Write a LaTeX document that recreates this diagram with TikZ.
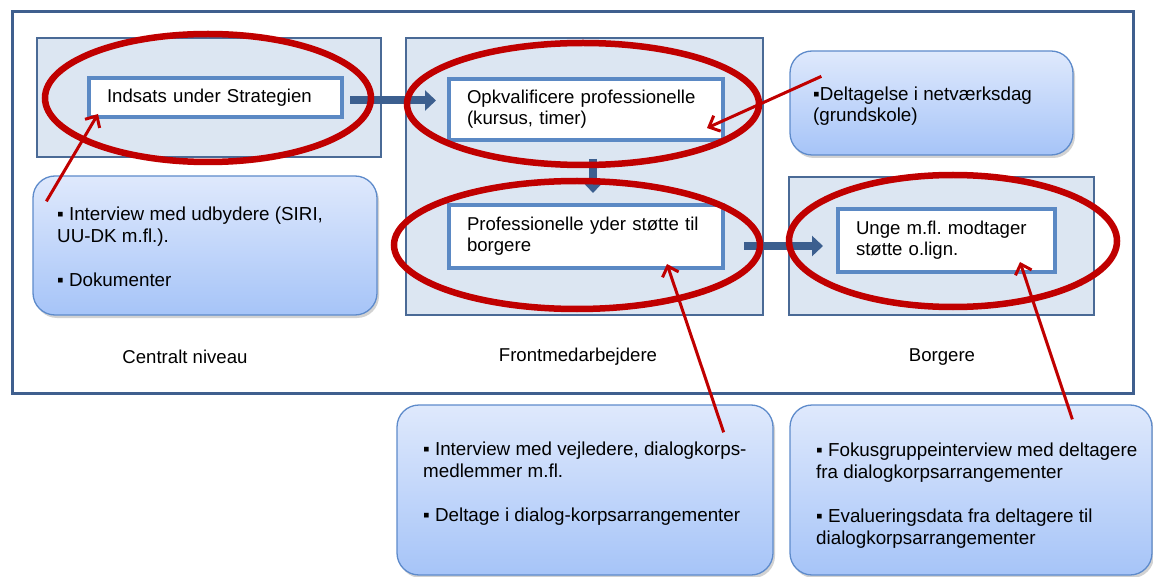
\documentclass[tikz,border=0pt]{standalone}
\usepackage{fontspec}
\setmainfont{Liberation Sans}
\usetikzlibrary{arrows.meta,shadows}
\definecolor{framec}{HTML}{3F5F8E}
\definecolor{panelfill}{HTML}{DCE6F2}
\definecolor{panelline}{HTML}{4A6A96}
\definecolor{boxline}{HTML}{5B89C4}
\definecolor{bigarrowc}{HTML}{3C5F8F}
\definecolor{redc}{HTML}{C00000}
\definecolor{calltop}{HTML}{DFE9FC}
\definecolor{callbot}{HTML}{A6C4F8}
\definecolor{callline}{HTML}{5E8BCB}
\frenchspacing
\tikzset{
  frame/.style={draw=framec, line width=3pt, inner sep=0pt},
  panel/.style={draw=panelline, fill=panelfill, line width=2pt, inner sep=0pt},
  inbox/.style={draw=boxline, fill=white, line width=4pt, inner xsep=18pt, inner ysep=0pt, align=left,
     font=\fontsize{18.6}{21}\selectfont},
  callout/.style={draw=callline, line width=1.3pt, rounded corners=22pt, top color=calltop, bottom color=callbot,
     inner sep=0pt, drop shadow={opacity=0.35, shadow xshift=2pt, shadow yshift=-3pt}},
  calltext/.style={anchor=north west, inner sep=0pt, align=left, font=\fontsize{18.8}{22}\selectfont},
  biglabel/.style={font=\fontsize{18.6}{21}\selectfont, inner sep=0pt},
  bigarrow/.style={draw=bigarrowc, line width=8pt, -{Triangle[length=11pt,width=20pt]}},
  redell/.style={draw=redc, line width=6.5pt},
  redarrow/.style={draw=redc, line width=3pt, -{Straight Barb[length=9pt,width=17pt]}},
}
\begin{document}
\begin{tikzpicture}[x=1pt,y=-1pt]
\useasboundingbox (0,0) rectangle (1153,577);
\fill[white] (0,0) rectangle (1153,577);

% outer frame
\node[frame, minimum width=1121pt, minimum height=381pt] (outer) at (572.5,202.5) {};

% panels
\node[panel, minimum width=344pt, minimum height=119pt] (pc) at (209,97.5) {};
\node[panel, minimum width=357pt, minimum height=277pt] (pf) at (584.5,176.5) {};
\node[panel, minimum width=305pt, minimum height=138pt] (pb) at (941.5,246) {};

% inner boxes
\node[inbox, text width=217pt, minimum height=39pt] (indsats) at (215.5,97.5) {Indsats under Strategien};
\node[inbox, text width=238pt, minimum height=61pt] (opk) at (586,109.5) {Opkvalificere professionelle\\(kursus, timer)};
\node[inbox, text width=238pt, minimum height=63pt] (prof) at (586,236.5) {Professionelle yder støtte til\\borgere};
\node[inbox, text width=181pt, minimum height=63pt] (unge) at (946.5,240.5) {Unge m.fl. modtager\\støtte o.lign.};

% big arrows
\draw[bigarrow] ([shift={(6,3)}]indsats.east) -- ([shift={(-11,3)}]indsats.east -| opk.west);
\draw[bigarrow] ([shift={(7,17)}]opk.south) -- ([shift={(7,-10)}]prof.north);
\draw[bigarrow] ([shift={(19,9.5)}]prof.east) -- ([shift={(-13,9.5)}]prof.east -| unge.west);

% panel labels
\node[biglabel] (lc) at (185,357) {Centralt niveau};
\node[biglabel] (lf) at (578,357) {Frontmedarbejdere};
\node[biglabel] (lb) at (942,357) {Borgere};

% callouts
\node[callout, minimum width=344pt, minimum height=139pt] (cl) at (205,245.5) {};
\node[calltext] (clt) at (57,207) {▪ Interview med udbydere (SIRI,\\UU-DK m.fl.).\\[22pt]▪ Dokumenter};

\node[callout, minimum width=283pt, minimum height=104pt] (cd) at (931.5,103) {};
\node[calltext, font=\fontsize{18.8}{21}\selectfont] (cdt) at (813,87) {▪Deltagelse i netværksdag\\(grundskole)};

\node[callout, minimum width=376pt, minimum height=170pt] (cm) at (585,490) {};
\node[calltext] (cmt) at (423,442) {▪ Interview med vejledere, dialogkorps-\\medlemmer m.fl.\\[22pt]▪ Deltage i dialog-korpsarrangementer};

\node[callout, minimum width=362pt, minimum height=170pt] (cr) at (971,490) {};
\node[calltext] (crt) at (816,443) {▪ Fokusgruppeinterview med deltagere\\fra dialogkorpsarrangementer\\[22pt]▪ Evalueringsdata fra deltagere til\\dialogkorpsarrangementer};

% red ellipses
\draw[redell] (208,98) ellipse [x radius=163, y radius=64];
\draw[redell] (583,104) ellipse [x radius=176, y radius=61];
\draw[redell] (577,245) ellipse [x radius=183, y radius=64];
\draw[redell] (953,241) ellipse [x radius=164, y radius=66];

% red arrows
\draw[redarrow] ([shift={(14,26)}]cl.north west) -- ([shift={(11,-5)}]indsats.south west);
\draw[redarrow] ([shift={(32,26)}]cd.north west) -- ([shift={(-18,-14)}]opk.south east);
\draw[redarrow] ([shift={(-50,28)}]cm.north east) -- ([shift={(-58,-6)}]prof.south east);
\draw[redarrow] ([shift={(283,15)}]cr.north west) -- ([shift={(-37,-12)}]unge.south east);
\end{tikzpicture}
\end{document}
